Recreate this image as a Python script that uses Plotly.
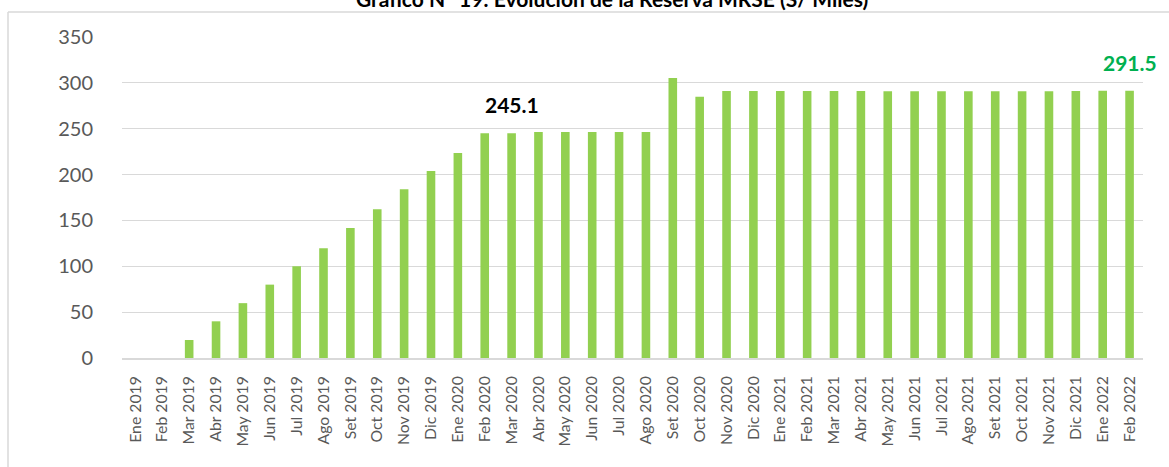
"""Gráfico N° 19: Evolución de la Reserva MRSE (S/ Miles) — column chart."""
import plotly.graph_objects as go

GREEN_BAR, GREEN_LABEL, GRID, TICK = "#92d050", "#00b050", "#d9d9d9", "#595959"
_FONT = "Lato, Calibri, sans-serif"

months = [
    "Ene 2019", "Feb 2019", "Mar 2019", "Abr 2019", "May 2019", "Jun 2019",
    "Jul 2019", "Ago 2019", "Set 2019", "Oct 2019", "Nov 2019", "Dic 2019",
    "Ene 2020", "Feb 2020", "Mar 2020", "Abr 2020", "May 2020", "Jun 2020",
    "Jul 2020", "Ago 2020", "Set 2020", "Oct 2020", "Nov 2020", "Dic 2020",
    "Ene 2021", "Feb 2021", "Mar 2021", "Abr 2021", "May 2021", "Jun 2021",
    "Jul 2021", "Ago 2021", "Set 2021", "Oct 2021", "Nov 2021", "Dic 2021",
    "Ene 2022", "Feb 2022",
]
reserva = [
    0, 0, 19.6, 40.0, 59.8, 80.0, 100.0, 119.6, 141.7, 162.3, 184.0, 204.0,
    223.6, 245.1, 245.1, 246.3, 246.3, 246.3, 246.3, 246.3, 305.4, 284.8, 291.2, 291.2,
    291.2, 291.2, 291.2, 291.2, 290.9, 290.9, 290.9, 290.9, 290.9, 290.9, 290.9, 291.2,
    291.5, 291.5,
]
# bars that carry a data label, and the label colour
labelled = {"Mar 2020": "#000000", "Feb 2022": GREEN_LABEL}
y_ticks = [0, 50, 100, 150, 200, 250, 300, 350]

W, H = 1169, 467
ML, MR, MT, MB = 122, 26, 37, 109

fig = go.Figure(go.Bar(
    x=months, y=reserva, marker=dict(color=GREEN_BAR, line=dict(width=0)),
    hovertemplate="%{x}: %{y:.1f}<extra></extra>"))

for m, colour in labelled.items():
    v = reserva[months.index(m)]
    fig.add_annotation(x=m, y=v, text=f"<b>{v:.1f}</b>", showarrow=False,
                       yanchor="bottom", yshift=14,
                       font=dict(family=_FONT, size=21, color=colour))

# title sits mostly above the visible page, as in the source capture
fig.add_annotation(xref="paper", yref="paper", x=(612 - ML) / (W - ML - MR),
                   y=(H - MB + 2) / (H - MT - MB), text="<b>Gráfico N° 19: Evolución de la Reserva MRSE (S/ Miles)</b>",
                   showarrow=False, xanchor="center", yanchor="middle",
                   font=dict(family=_FONT, size=21, color="#000000"))

# chart-area frame: left and top edges only are in view
pw, ph = W - ML - MR, H - MT - MB
fx, fy = (8 - ML) / pw, (H - MB - 12) / ph
fig.add_shape(type="line", xref="paper", yref="paper", x0=fx, x1=fx, y0=-0.5, y1=fy,
              line=dict(color=GRID, width=1.5))
fig.add_shape(type="line", xref="paper", yref="paper", x0=fx, x1=1.1, y0=fy, y1=fy,
              line=dict(color=GRID, width=1.5))

fig.update_layout(
    width=W, height=H, margin=dict(l=ML, r=MR, t=MT, b=MB),
    paper_bgcolor="#ffffff", plot_bgcolor="#ffffff",
    font=dict(family=_FONT, color=TICK), bargap=0.68, showlegend=False,
    xaxis=dict(range=[-0.5, len(months) - 0.5], tickangle=-90,
               tickfont=dict(size=15.8, color=TICK), showgrid=False,
               showline=True, linecolor=GRID, linewidth=1.5, ticks="",
               ticklabelstandoff=10),
    yaxis=dict(range=[0, 350], tickvals=y_ticks, tickfont=dict(size=20, color=TICK),
               showgrid=True, gridcolor=GRID, gridwidth=1, zeroline=False,
               ticks="", ticklabelstandoff=28),
)

# drop the browser's default body margin so the figure starts at the page corner
fig.write_html("out.html", config={"displayModeBar": False},
               post_script="document.body.style.margin='0';document.body.style.overflow='hidden';")
